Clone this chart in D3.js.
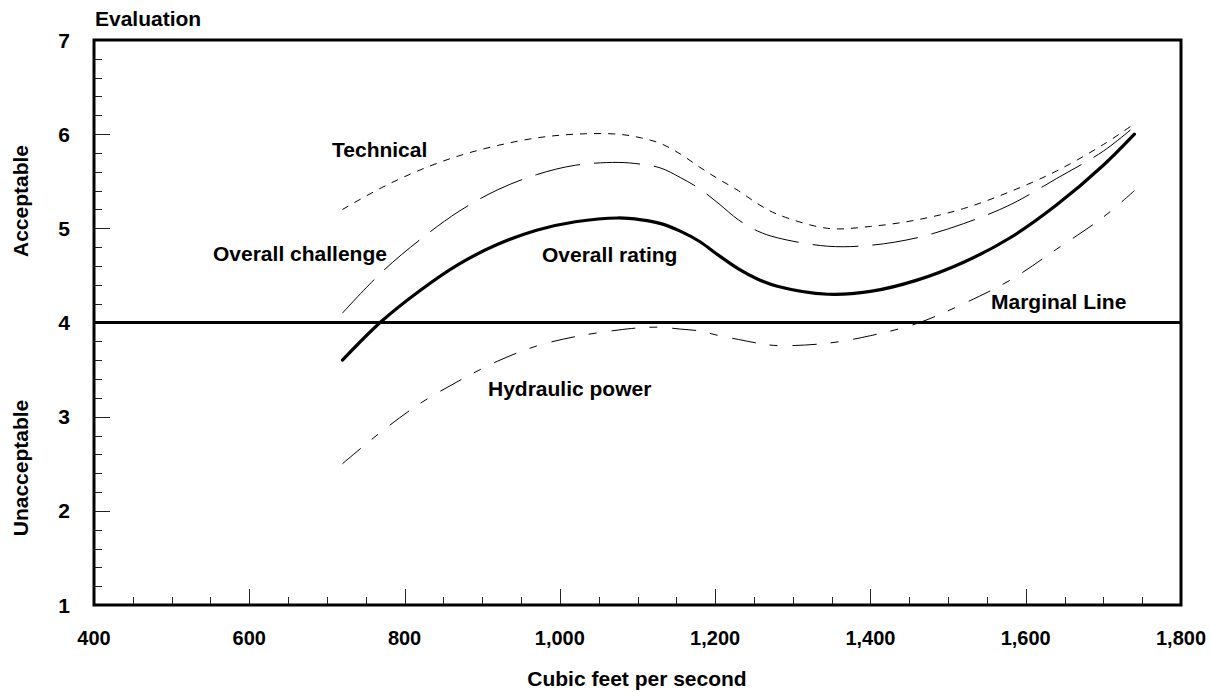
<!DOCTYPE html>
<html>
<head>
<meta charset="utf-8">
<script src="https://cdn.jsdelivr.net/npm/d3@7"></script>
<style>
  html, body { margin: 0; padding: 0; background: #fff; }
  svg { display: block; }
  text { font-family: "Liberation Sans", Arial, sans-serif; font-weight: bold; fill: #000; }
</style>
</head>
<body>
<svg id="chart" width="1210" height="692"></svg>
<script>
// ---- data ----
const flows = [720, 770, 820, 870, 920, 970, 1020, 1075, 1105, 1130, 1155, 1180, 1205, 1230, 1255, 1280, 1345, 1400, 1460, 1520, 1580, 1640, 1700, 1740];
const technical        = [5.20, 5.43, 5.62, 5.77, 5.88, 5.96, 6.00, 6.00, 5.96, 5.90, 5.79, 5.65, 5.52, 5.40, 5.26, 5.15, 5.00, 5.02, 5.09, 5.21, 5.39, 5.61, 5.89, 6.11];
const overallChallenge = [4.10, 4.53, 4.88, 5.18, 5.41, 5.57, 5.67, 5.70, 5.68, 5.64, 5.54, 5.42, 5.26, 5.09, 4.97, 4.90, 4.81, 4.82, 4.90, 5.05, 5.25, 5.53, 5.82, 6.08];
const overallRating    = [3.60, 4.01, 4.34, 4.62, 4.83, 4.98, 5.07, 5.11, 5.09, 5.05, 4.97, 4.86, 4.71, 4.57, 4.46, 4.385, 4.30, 4.33, 4.45, 4.64, 4.90, 5.25, 5.67, 6.00];
const hydraulicPower   = [2.50, 2.84, 3.14, 3.38, 3.59, 3.75, 3.85, 3.92, 3.945, 3.95, 3.93, 3.91, 3.86, 3.82, 3.78, 3.755, 3.78, 3.86, 3.99, 4.20, 4.45, 4.78, 5.12, 5.40];
const marginalValue = 4;
const xTicks = [400, 600, 800, 1000, 1200, 1400, 1600, 1800];
const yTicks = [1, 2, 3, 4, 5, 6, 7];

// ---- layout ----
const W = 1210, H = 692;
const margin = { left: 94, top: 40, right: 29, bottom: 87 };
const svg = d3.select("#chart");
const x = d3.scaleLinear().domain([400, 1800]).range([margin.left, W - margin.right]);
const y = d3.scaleLinear().domain([1, 7]).range([H - margin.bottom, margin.top]);

// minor / major ticks (inward)
const g = svg.append("g");
const xMinor = d3.range(400, 1801, 50);
const yMinor = d3.range(1, 7.001, 0.2);
g.selectAll("line.xt").data(xMinor).join("line")
  .attr("x1", d => Math.round(x(d)) + 0.5).attr("x2", d => Math.round(x(d)) + 0.5)
  .attr("y1", y(1)).attr("y2", d => y(1) - ((d % 200 === 0) ? 16 : 8))
  .attr("stroke", "#222").attr("stroke-width", 1);
g.selectAll("line.yt").data(yMinor).join("line")
  .attr("y1", d => Math.round(y(d)) + 0.5).attr("y2", d => Math.round(y(d)) + 0.5)
  .attr("x1", x(400)).attr("x2", d => x(400) + ((Math.abs(d - Math.round(d)) < 1e-6) ? 16 : 8))
  .attr("stroke", "#222").attr("stroke-width", 1);

// tick labels
svg.selectAll("text.xl").data(xTicks).join("text")
  .attr("x", d => x(d)).attr("y", 645)
  .attr("text-anchor", "middle").attr("font-size", 20)
  .text(d => d3.format(",")(d));
svg.selectAll("text.yl").data(yTicks).join("text")
  .attr("x", 70).attr("y", d => y(d)).attr("dy", "0.36em")
  .attr("text-anchor", "end").attr("font-size", 21)
  .text(d => d);

// series
const line = d3.line().x((d, i) => x(flows[i])).y(d => y(d)).curve(d3.curveCatmullRom.alpha(0.5));
const series = [
  { values: technical, width: 1, dash: "7 7" },
  { values: overallChallenge, width: 1, dash: "46 14" },
  { values: hydraulicPower, width: 1, dash: "24 14 8 15" },
  { values: overallRating, width: 3.2, dash: null }
];
svg.selectAll("path.s").data(series).join("path")
  .attr("d", d => line(d.values))
  .attr("fill", "none").attr("stroke", "#000")
  .attr("stroke-width", d => d.width)
  .attr("stroke-dasharray", d => d.dash)
  .attr("stroke-linecap", d => d.dash ? "butt" : "round");

// marginal line
svg.append("line")
  .attr("x1", x(400)).attr("x2", x(1800))
  .attr("y1", y(marginalValue)).attr("y2", y(marginalValue))
  .attr("stroke", "#000").attr("stroke-width", 3);

// frame
svg.append("rect")
  .attr("x", x(400)).attr("y", y(7))
  .attr("width", x(1800) - x(400)).attr("height", y(1) - y(7))
  .attr("fill", "none").attr("stroke", "#000").attr("stroke-width", 3);

// annotations
const labels = [
  { t: "Technical", px: 332, py: 157 },
  { t: "Overall challenge", px: 213, py: 261 },
  { t: "Overall rating", px: 542, py: 262 },
  { t: "Hydraulic power", px: 488, py: 396 },
  { t: "Marginal Line", px: 991, py: 309 },
  { t: "Evaluation", px: 95, py: 26 }
];
svg.selectAll("text.lab").data(labels).join("text")
  .attr("x", d => d.px).attr("y", d => d.py)
  .attr("font-size", 21)
  .text(d => d.t);

svg.append("text").attr("x", 637).attr("y", 686)
  .attr("text-anchor", "middle").attr("font-size", 21)
  .text("Cubic feet per second");
svg.append("text").attr("transform", "translate(28,201) rotate(-90)")
  .attr("text-anchor", "middle").attr("font-size", 21).text("Acceptable");
svg.append("text").attr("transform", "translate(28,468) rotate(-90)")
  .attr("text-anchor", "middle").attr("font-size", 21).text("Unacceptable");
</script>
</body>
</html>
